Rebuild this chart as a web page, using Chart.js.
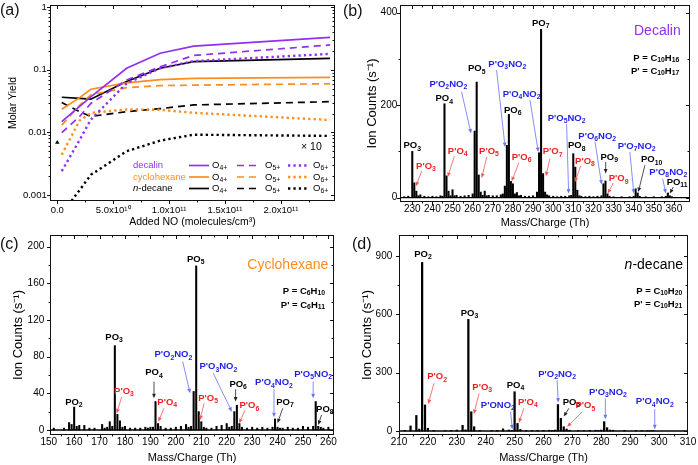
<!DOCTYPE html>
<html><head><meta charset="utf-8">
<script src="https://cdn.jsdelivr.net/npm/chart.js@4.4.1/dist/chart.umd.min.js"></script>
<style>
html,body{margin:0;padding:0;background:#fff;}
#wrap{position:relative;width:698px;height:465px;overflow:hidden;background:#fff;}
.pane{position:absolute;}
canvas{display:block;}
</style></head><body>
<div id="wrap">
<div class="pane" style="left:0;top:0;"><canvas id="ca"></canvas></div>
<div class="pane" style="left:340px;top:0;"><canvas id="cb"></canvas></div>
<div class="pane" style="left:0;top:232px;"><canvas id="cc"></canvas></div>
<div class="pane" style="left:349px;top:232px;"><canvas id="cd"></canvas></div>
</div>
<script>
// ---------------- DATA ----------------
// (a) molar yields vs added NO
const noLevels      = [4e9, 2e10, 3e10, 6.2e10, 9.2e10, 1.22e11, 2.44e11];
const decalinO4     = [0.0149, 0.026, 0.037, 0.106, 0.184, 0.24, 0.33];
const decalinO5     = [0.0099, 0.018, 0.029, 0.069, 0.112, 0.17, 0.25];
const decalinO6     = [0.0024, 0.0076, 0.016, 0.061, 0.106, 0.138, 0.18];
const cyclohexaneO4 = [0.0234, 0.036, 0.049, 0.062, 0.070, 0.073, 0.076];
const cyclohexaneO5 = [0.0131, 0.027, 0.040, 0.052, 0.056, 0.057, 0.060];
const cyclohexaneO6 = [0.0044, 0.0155, 0.0205, 0.0233, 0.023, 0.0206, 0.0158];
const decaneO4      = [0.0365, 0.035, 0.034, 0.065, 0.106, 0.135, 0.153];
const decaneO5      = [0.030, 0.0215, 0.018, 0.0215, 0.024, 0.0275, 0.031];
const decaneO6x10   = [0.0005, 0.0012, 0.0021, 0.0050, 0.0074, 0.0092, 0.0088];
const zeroNO        = [0];
const zeroNOYield   = [0.0069];
const yieldTicks      = [0.001, 0.01, 0.1, 1];
const yieldTickLabels = ['0.001', '0.01', '0.1', '1'];
const noTicks      = [0, 5e10, 1e11, 1.5e11, 2e11];
const noTickLabels = ['0.0', '5.0x10\u00B9\u2070', '1.0x10\u00B9\u00B9', '1.5x10\u00B9\u00B9', '2.0x10\u00B9\u00B9'];

// (b) decalin spectrum
const decalinMass = [
 226,228,230,231,232,233,234,236,238,240,
 242,244,245,246,247,248,249,250,251,252,
 254,256,258,260,261,262,263,264,265,266,
 267,268,270,272,274,275,276,277,278,279,
 280,281,282,283,284,286,288,290,292,293,
 294,295,296,297,298,300,302,304,306,308,
 309,310,311,312,313,314,316,318,320,322,
 324,325,326,327,328,330,334,338,340,341,
 342,343,346,350,354,356,357,358,359];
const decalinCounts = [
 2,3,100,32,14,4,6,3,2,3,
 2,4,3,203,47,14,4,17,4,5,
 3,4,5,8,144,250,49,12,5,14,
 4,5,4,4,6,8,25,113,180,35,
 30,8,11,4,5,3,3,4,12,97,
 364,52,12,6,4,3,2,3,3,4,
 5,95,66,16,4,3,2,3,2,3,
 4,30,36,8,3,2,2,2,3,19,
 10,3,2,2,2,3,10,4,2];
const decalinMassTicks = [230,240,250,260,270,280,290,300,310,320,330,340,350,360];
const decalinCountTicks = [0, 200, 400];

// (c) cyclohexane spectrum
const cyclohexaneMass = [
 152,156,158,159,160,161,162,164,166,168,
 171,172,173,174,175,176,177,178,179,180,
 182,184,186,188,189,190,191,192,193,194,
 196,198,200,202,204,205,206,207,208,209,
 210,211,212,214,216,218,220,221,222,223,
 224,225,226,228,230,232,234,236,238,239,
 240,241,242,244,246,248,250,252,254,255,
 256,257,258,260];
const cyclohexaneCounts = [
 2,2,8,6,25,4,5,5,2,2,
 6,2,3,9,4,92,17,10,3,4,
 2,2,2,3,2,3,3,31,7,4,
 2,2,3,4,6,3,4,42,179,20,
 9,3,2,2,4,5,7,3,4,20,
 27,7,3,2,3,2,3,2,3,12,
 3,2,2,3,2,2,4,3,4,31,
 4,3,2,3];
const cyclohexaneMassTicks = [150,160,170,180,190,200,210,220,230,240,250,260];
const cyclohexaneCountTicks = [0, 40, 80, 120, 160, 200];

// (d) n-decane spectrum
const decaneMass = [
 212,214,216,217,218,219,220,222,226,228,
 230,232,233,234,235,236,238,242,244,246,
 248,249,250,251,252,254,256,258,260,262,
 263,264,265,266,267,268,269,272,274,276,
 278,279,280,281,282,283,284,288,292,294,
 296,297,298];
const decaneCounts = [
 3,26,80,10,867,134,14,3,2,3,
 5,29,6,574,99,22,3,2,3,11,
 5,3,202,39,8,3,2,3,3,4,
 3,5,136,65,22,10,4,2,2,3,
 4,3,5,48,17,5,4,3,2,2,
 2,2,2];
const decaneMassTicks = [210,220,230,240,250,260,270,280,290,300,310];
const decaneCountTicks = [0, 300, 600, 900];

// ---------------- STYLE ----------------
const FONT = '"Liberation Sans", Arial, Helvetica, sans-serif';
const PURPLE = '#9130F2', ORANGE = '#FF8C1F', BLACK = '#000000';
const TB = '#1E1EE6', TR = '#F01E1E', TK = '#000000';
const AB = '#6474F2', AR = '#F25858', AK = '#222222';

function parseRich(s){
  const out=[]; const re=/([_^~])\{([^}]*)\}/g; let last=0, m;
  while((m=re.exec(s))){
    if(m.index>last) out.push({t:s.slice(last,m.index),mode:'n'});
    out.push({t:m[2],mode:m[1]==='_'?'sub':(m[1]==='^'?'sup':'it')});
    last=re.lastIndex;
  }
  if(last<s.length) out.push({t:s.slice(last),mode:'n'});
  return out;
}
function drawRich(ctx,s,x,y,o){
  o=Object.assign({size:10,weight:'normal',color:'#000',align:'center',subScale:0.72,subDy:0.32},o||{});
  const segs=parseRich(s);
  const fontOf=g=>{const sz=(g.mode==='sub'||g.mode==='sup')?o.size*o.subScale:o.size;return (g.mode==='it'?'italic ':'')+o.weight+' '+sz+'px '+FONT;};
  ctx.save(); ctx.fillStyle=o.color; ctx.textBaseline='middle'; ctx.textAlign='left';
  let w=0; for(const g of segs){ctx.font=fontOf(g); g.w=ctx.measureText(g.t).width; w+=g.w;}
  let cx=o.align==='center'?x-w/2:(o.align==='right'?x-w:x);
  for(const g of segs){ctx.font=fontOf(g); const dy=g.mode==='sub'?o.size*o.subDy:(g.mode==='sup'?-o.size*0.35:0); ctx.fillText(g.t,cx,y+dy); cx+=g.w;}
  ctx.restore(); return w;
}
function drawArrow(ctx,x1,y1,x2,y2,color){
  ctx.save(); ctx.strokeStyle=color; ctx.fillStyle=color; ctx.lineWidth=0.8;
  const ang=Math.atan2(y2-y1,x2-x1), L=4.5, Wd=1.9;
  const bx=x2-L*Math.cos(ang), by=y2-L*Math.sin(ang);
  ctx.beginPath(); ctx.moveTo(x1,y1); ctx.lineTo(bx,by); ctx.stroke();
  ctx.beginPath(); ctx.moveTo(x2,y2);
  ctx.lineTo(bx+Wd*Math.sin(ang),by-Wd*Math.cos(ang));
  ctx.lineTo(bx-Wd*Math.sin(ang),by+Wd*Math.cos(ang)); ctx.closePath(); ctx.fill();
  ctx.restore();
}

const framePlugin = {
  id:'frame',
  afterDraw(chart,args,o){
    const {ctx,chartArea:a,scales:{x,y}}=chart;
    ctx.save(); ctx.strokeStyle='#111'; ctx.lineWidth=1;
    const L=Math.round(a.left)+0.5, R=Math.round(a.right)-0.5, T=Math.round(a.top)+0.5, B=Math.round(a.bottom)-0.5;
    ctx.strokeRect(L,T,R-L,B-T);
    ctx.beginPath();
    const xt=(vals,len)=>{for(const v of vals){const p=Math.round(x.getPixelForValue(v))+0.5; if(p<L-0.1||p>R+0.1) continue; ctx.moveTo(p,B); ctx.lineTo(p,B+len); ctx.moveTo(p,T); ctx.lineTo(p,T+len);}};
    const yt=(vals,len)=>{for(const v of vals){const p=Math.round(y.getPixelForValue(v))+0.5; if(p<T-0.1||p>B+0.1) continue; ctx.moveTo(L,p); ctx.lineTo(L-len,p); ctx.moveTo(R,p); ctx.lineTo(R-len,p);}};
    xt(o.xMajor,3.5); xt(o.xMinor,2); yt(o.yMajor,3.5); yt(o.yMinor,2);
    ctx.stroke(); ctx.restore();
    if(o.panel) drawRich(ctx,o.panel[0],o.panel[1],o.panel[2],{size:16,align:'left',color:'#111'});
  }
};
const notesPlugin = {
  id:'notes',
  afterDatasetsDraw(chart,args,o){
    const {ctx,chartArea:a,scales:{x,y}}=chart;
    if(o.baseline){ const p=y.getPixelForValue(0); ctx.save(); ctx.strokeStyle='#000'; ctx.lineWidth=1.4; ctx.beginPath(); ctx.moveTo(a.left,p); ctx.lineTo(a.right,p); ctx.stroke(); ctx.restore(); }
    for(const r of (o.arrows||[])) drawArrow(ctx,x.getPixelForValue(r[0]),y.getPixelForValue(r[1]),x.getPixelForValue(r[2]),y.getPixelForValue(r[3]),r[4]);
    for(const l of (o.labels||[])) drawRich(ctx,l[0],x.getPixelForValue(l[1]),y.getPixelForValue(l[2]),{size:9.5,weight:'bold',color:l[3]});
    for(const t of (o.texts||[])) drawRich(ctx,t.s,t.x,t.y,t);
  }
};
const yieldLegendPlugin = {
  id:'yieldLegend',
  afterDatasetsDraw(chart,args,o){
    const ctx=chart.ctx, ds=chart.data.datasets;
    o.rows.forEach((r,i)=>{
      const yy=o.y0+i*o.dy;
      drawRich(ctx,r.name,o.nameX,yy,{size:o.size,color:r.color,align:'left'});
      r.sets.forEach((di,j)=>{
        const d=ds[di], s=o.samples[j];
        ctx.save(); ctx.strokeStyle=d.borderColor; ctx.lineWidth=d.borderWidth; ctx.setLineDash(d.borderDash||[]);
        ctx.beginPath(); ctx.moveTo(s[0],yy); ctx.lineTo(s[1],yy); ctx.stroke(); ctx.restore();
        drawRich(ctx,o.tags[j],s[2],yy,{size:o.size,color:'#000',align:'left'});
      });
    });
  }
};

function makeChart(id,W,H,area,c){
  const cv=document.getElementById(id); cv.width=W; cv.height=H; cv.style.width=W+'px'; cv.style.height=H+'px';
  const tickFont={family:FONT,size:c.tickSize}, xTitleFont={family:FONT,size:c.titleSize}, yTitleFont={family:FONT,size:c.yTitleSize||c.titleSize};
  return new Chart(cv,{
    type:c.type, data:{datasets:c.datasets},
    options:{
      responsive:false, animation:false, devicePixelRatio:1, events:[],
      layout:{padding:{left:0,top:area.top,right:W-area.right,bottom:0}},
      plugins:{legend:{display:false},tooltip:{enabled:false},frame:c.frame,notes:c.notes||{},yieldLegend:c.legend||{rows:[]}},
      scales:{
        x:{type:'linear',min:c.xMin,max:c.xMax,offset:false,grid:{display:false,drawTicks:false},border:{display:false},
          afterBuildTicks:s=>{s.ticks=c.xTicks.map(v=>({value:v}));},
          afterFit:s=>{s.height=H-area.bottom; s.paddingLeft=0; s.paddingRight=0;},
          ticks:{autoSkip:false,maxRotation:0,minRotation:0,padding:c.xTickPad,font:tickFont,color:'#000',
            callback:v=>{const i=c.xTicks.indexOf(v); return i<0?'':c.xLabels[i];}},
          title:{display:true,text:c.xTitle,font:xTitleFont,color:'#000',padding:{top:0,bottom:c.xTitlePad}}},
        y:{type:c.yType,min:c.yMin,max:c.yMax,grid:{display:false,drawTicks:false},border:{display:false},
          afterBuildTicks:s=>{s.ticks=c.yTicks.map(v=>({value:v}));},
          afterFit:s=>{s.width=area.left; s.paddingTop=0; s.paddingBottom=0;},
          ticks:{autoSkip:false,padding:c.yTickPad,font:tickFont,color:'#000',
            callback:v=>{const i=c.yTicks.indexOf(v); return i<0?'':c.yLabels[i];}},
          title:{display:true,text:c.yTitle,font:yTitleFont,color:'#000',padding:{top:c.yTitlePad,bottom:0}}}
      }
    },
    plugins:[framePlugin,notesPlugin,yieldLegendPlugin]
  });
}
const mid=a=>a.slice(0,-1).map((v,i)=>(v+a[i+1])/2);

// ---------------- (a) ----------------
const styleOf={solid:{borderDash:[],borderWidth:1.7},dashed:{borderDash:[7,5],borderWidth:1.7},dotted:{borderDash:[2.3,3.1],borderWidth:2.4}};
function series(ys,color,st){return Object.assign({type:'line',data:noLevels.map((x,i)=>({x,y:ys[i]})),borderColor:color,backgroundColor:color,pointRadius:0,tension:0,fill:false,borderCapStyle:'butt'},styleOf[st]);}
const logMinor=[]; [0.001,0.01,0.1].forEach(d=>{for(let k=2;k<=9;k++) logMinor.push(d*k);});
makeChart('ca',349,232,{left:50,top:5,right:335,bottom:201},{
  type:'line',
  datasets:[
    series(decalinO4,PURPLE,'solid'),series(decalinO5,PURPLE,'dashed'),series(decalinO6,PURPLE,'dotted'),
    series(cyclohexaneO4,ORANGE,'solid'),series(cyclohexaneO5,ORANGE,'dashed'),series(cyclohexaneO6,ORANGE,'dotted'),
    series(decaneO4,BLACK,'solid'),series(decaneO5,BLACK,'dashed'),series(decaneO6x10,BLACK,'dotted'),
    {type:'line',showLine:false,data:zeroNO.map((x,i)=>({x,y:zeroNOYield[i]})),pointStyle:'triangle',pointRadius:2.6,backgroundColor:'#000',borderColor:'#000',borderWidth:0}
  ],
  xMin:-6.5e9,xMax:2.484e11,xTicks:noTicks,xLabels:noTickLabels,xTitle:'Added NO (molecules/cm\u00B3)',
  yType:'logarithmic',yMin:0.000802,yMax:1.088,yTicks:yieldTicks,yLabels:yieldTickLabels,yTitle:'Molar Yield',
  tickSize:9.5,titleSize:10.5,xTickPad:4,xTitlePad:4,yTickPad:3.3,yTitlePad:7,
  frame:{xMajor:noTicks,xMinor:mid(noTicks).concat([2.25e11]),yMajor:yieldTicks,yMinor:logMinor,panel:['(a)',0,10.5]},
  notes:{texts:[{s:'\u00D7 10',x:301,y:147,size:10.5,align:'left'}]},
  legend:{nameX:133,y0:165.5,dy:11.5,size:9.5,tags:['O_{4+}','O_{5+}','O_{6+}'],
    samples:[[189,209,212],[237,258,265],[288,308,313]],
    rows:[{name:'decalin',color:PURPLE,sets:[0,1,2]},{name:'cyclohexane',color:ORANGE,sets:[3,4,5]},{name:'~{n}-decane',color:BLACK,sets:[6,7,8]}]}
});

// ---------------- spectra ----------------
function bars(ms,cs,th){return [{type:'bar',data:ms.map((m,i)=>({x:m,y:cs[i]})),backgroundColor:'#000',borderWidth:0,barThickness:th,grouped:false}];}

// (b) decalin
makeChart('cb',358,232,{left:60,top:5,right:350,bottom:202},{
  type:'bar',datasets:bars(decalinMass,decalinCounts,1.4),
  xMin:223.9,xMax:368,xTicks:decalinMassTicks,xLabels:decalinMassTicks.map(String),xTitle:'Mass/Charge (Th)',
  yType:'linear',yMin:-9.5,yMax:416.7,yTicks:decalinCountTicks,yLabels:decalinCountTicks.map(String),yTitle:'Ion Counts (s\u207B\u00B9)',
  tickSize:10,titleSize:11,yTitleSize:13,xTickPad:1.5,xTitlePad:2.7,yTickPad:2.7,yTitlePad:24.9,
  frame:{xMajor:decalinMassTicks,xMinor:mid(decalinMassTicks),yMajor:decalinCountTicks,yMinor:[100,300],panel:['(b)',3,11.5]},
  notes:{baseline:true,
    labels:[['PO_{3}',230,112,TK],["P'O_{3}",236.8,68,TR],['PO_{4}',245.9,214,TK],["P'O_{4}",252.6,101,TR],["P'O_{2}NO_{2}",247.9,245,TB],
      ['PO_{5}',262,279,TK],["P'O_{5}",268.1,101,TR],["P'O_{3}NO_{2}",277.2,289,TB],["P'O_{4}NO_{2}",284.3,224,TB],['PO_{6}',279.9,189,TK],
      ["P'O_{6}",284.3,87,TR],['PO_{7}',293.8,378,TK],["P'O_{7}",299.7,99,TR],["P'O_{5}NO_{2}",306.7,171,TB],['PO_{8}',311.7,112,TK],
      ["P'O_{8}",315.8,79,TR],["P'O_{6}NO_{2}",321.9,133,TB],['PO_{9}',327.9,88,TK],["P'O_{9}",332.5,41,TR],["P'O_{7}NO_{2}",341.5,111,TB],
      ['PO_{10}',348.9,82,TK],["P'O_{8}NO_{2}",357.2,55,TB],['PO_{11}',361.6,34,TK]],
    arrows:[[234.7,57.7,231.8,24.5,AR],[250.9,89.5,247.6,44.6,AR],[254.5,228.8,259.2,138.7,AB],[267.0,88,264.5,42.5,AR],
      [271.9,275.8,276.1,109.6,AB],[288.5,210.8,292.6,98.8,AB],[283.0,75.8,279.4,35.3,AR],[298.4,84.5,296.4,46.2,AR],
      [306.7,158.8,307.7,8.7,AB],[313.7,68.5,310.8,33.8,AR],[320.8,120.5,324.1,28.2,AB],[326.1,77.1,326.1,52,AK],
      [329.9,31.6,327.1,8.7,AR],[338.1,98.8,340.1,8.7,AB],[345.6,70,342.3,12.1,AK],[354.4,41.2,356.0,8.7,AB],[359.7,23,358.0,8.7,AK]],
    texts:[{s:'Decalin',x:340.7,y:31,size:14,color:PURPLE,align:'right'},
      {s:'P = C_{10}H_{16}',x:339.3,y:58.3,size:9.5,weight:'bold',align:'right',subDy:0.2},
      {s:"P' = C_{10}H_{17}",x:339.3,y:71,size:9.5,weight:'bold',align:'right',subDy:0.2}]}
});

// (c) cyclohexane
makeChart('cc',349,233,{left:50,top:3,right:334,bottom:203},{
  type:'bar',datasets:bars(cyclohexaneMass,cyclohexaneCounts,1.4),
  xMin:150.5,xMax:262.2,xTicks:cyclohexaneMassTicks,xLabels:cyclohexaneMassTicks.map(String),xTitle:'Mass/Charge (Th)',
  yType:'linear',yMin:-5.5,yMax:212.7,yTicks:cyclohexaneCountTicks,yLabels:cyclohexaneCountTicks.map(String),yTitle:'Ion Counts (s\u207B\u00B9)',
  tickSize:10,titleSize:11,yTitleSize:13,xTickPad:1.5,xTitlePad:0.7,yTickPad:5.7,yTitlePad:10.5,
  frame:{xMajor:cyclohexaneMassTicks,xMinor:mid(cyclohexaneMassTicks),yMajor:cyclohexaneCountTicks,yMinor:mid(cyclohexaneCountTicks),panel:['(c)',0,13]},
  notes:{baseline:true,
    labels:[['PO_{2}',159.9,30,TK],['PO_{3}',175.7,101,TK],["P'O_{3}",179.6,42.5,TR],['PO_{4}',191.4,62.5,TK],["P'O_{4}",196.6,30,TR],
      ["P'O_{2}NO_{2}",199.0,82,TB],['PO_{5}',207.8,186,TK],["P'O_{5}",212.7,34.6,TR],["P'O_{3}NO_{2}",216.7,69,TB],['PO_{6}',224.5,50,TK],
      ["P'O_{6}",228.9,26.5,TR],["P'O_{4}NO_{2}",238.6,51.6,TB],['PO_{7}',242.9,30,TK],["P'O_{5}NO_{2}",254.0,61,TB],['PO_{8}',258.6,23,TK]],
    arrows:[[178.7,36,176.7,18,AR],[191.4,52.7,191.4,34.6,AK],[195.3,23.6,193.1,9,AR],[202.7,74.5,205.6,40,AB],[211.1,29,209.5,11,AR],
      [214.7,62,222.0,20,AB],[223.5,44.4,223.5,31,AK],[227.2,21.8,224.9,7.3,AR],[238.6,44.4,238.6,13.9,AB],[242.0,23.6,240.0,7.3,AK],
      [254.0,52.7,254.0,34.6,AB],[257.3,16.4,256.0,5.5,AK]],
    texts:[{s:'Cyclohexane',x:328.3,y:33,size:14,color:ORANGE,align:'right'},
      {s:'P = C_{6}H_{10}',x:325,y:59.7,size:9.5,weight:'bold',align:'right',subDy:0.2},
      {s:"P' = C_{6}H_{11}",x:325,y:73,size:9.5,weight:'bold',align:'right',subDy:0.2}]}
});

// (d) n-decane
makeChart('cd',349,233,{left:50,top:3,right:339,bottom:203},{
  type:'bar',datasets:bars(decaneMass,decaneCounts,1.6),
  xMin:210,xMax:310,xTicks:decaneMassTicks,xLabels:decaneMassTicks.map(String),xTitle:'Mass/Charge (Th)',
  yType:'linear',yMin:-20.6,yMax:1008,yTicks:decaneCountTicks,yLabels:decaneCountTicks.map(String),yTitle:'Ion Counts (s\u207B\u00B9)',
  tickSize:10,titleSize:11,yTitleSize:13,xTickPad:1.5,xTitlePad:0.7,yTickPad:6.7,yTitlePad:10.5,
  frame:{xMajor:decaneMassTicks,xMinor:mid(decaneMassTicks),yMajor:decaneCountTicks,yMinor:mid(decaneCountTicks),panel:['(d)',3,13]},
  notes:{baseline:true,
    labels:[['PO_{2}',218.3,910,TK],["P'O_{2}",223.2,279,TR],['PO_{3}',234.4,605,TK],["P'O_{3}",238.8,225,TR],['PO_{4}',250.3,237,TK],
      ["P'ONO_{2}",244.2,134,TB],["P'O_{4}",254.6,149,TR],["P'O_{2}NO_{2}",264.7,292,TB],['PO_{5}',269.7,148,TK],["P'O_{5}",274.5,130,TR],
      ["P'O_{3}NO_{2}",282.3,199,TB],["P'O_{4}NO_{2}",298.5,151,TB]],
    arrows:[[222.1,245,220.1,139,AR],[237.7,194,235.9,87,AR],[248.6,99,249.2,9,AB],[253.2,117,251.5,43,AR],[264.7,262,265.1,146,AB],
      [268.8,117,267.0,74,AK],[273.4,99,268.2,22,AR],[281.4,168,281.4,60,AB],[298.5,112,298.5,9,AB]],
    texts:[{s:'~{n}-decane',x:334,y:33,size:14,color:'#000',align:'right'},
      {s:'P = C_{10}H_{20}',x:333.3,y:59,size:9.5,weight:'bold',align:'right',subDy:0.2},
      {s:"P' = C_{10}H_{21}",x:333.3,y:72.3,size:9.5,weight:'bold',align:'right',subDy:0.2}]}
});
</script>
</body></html>
